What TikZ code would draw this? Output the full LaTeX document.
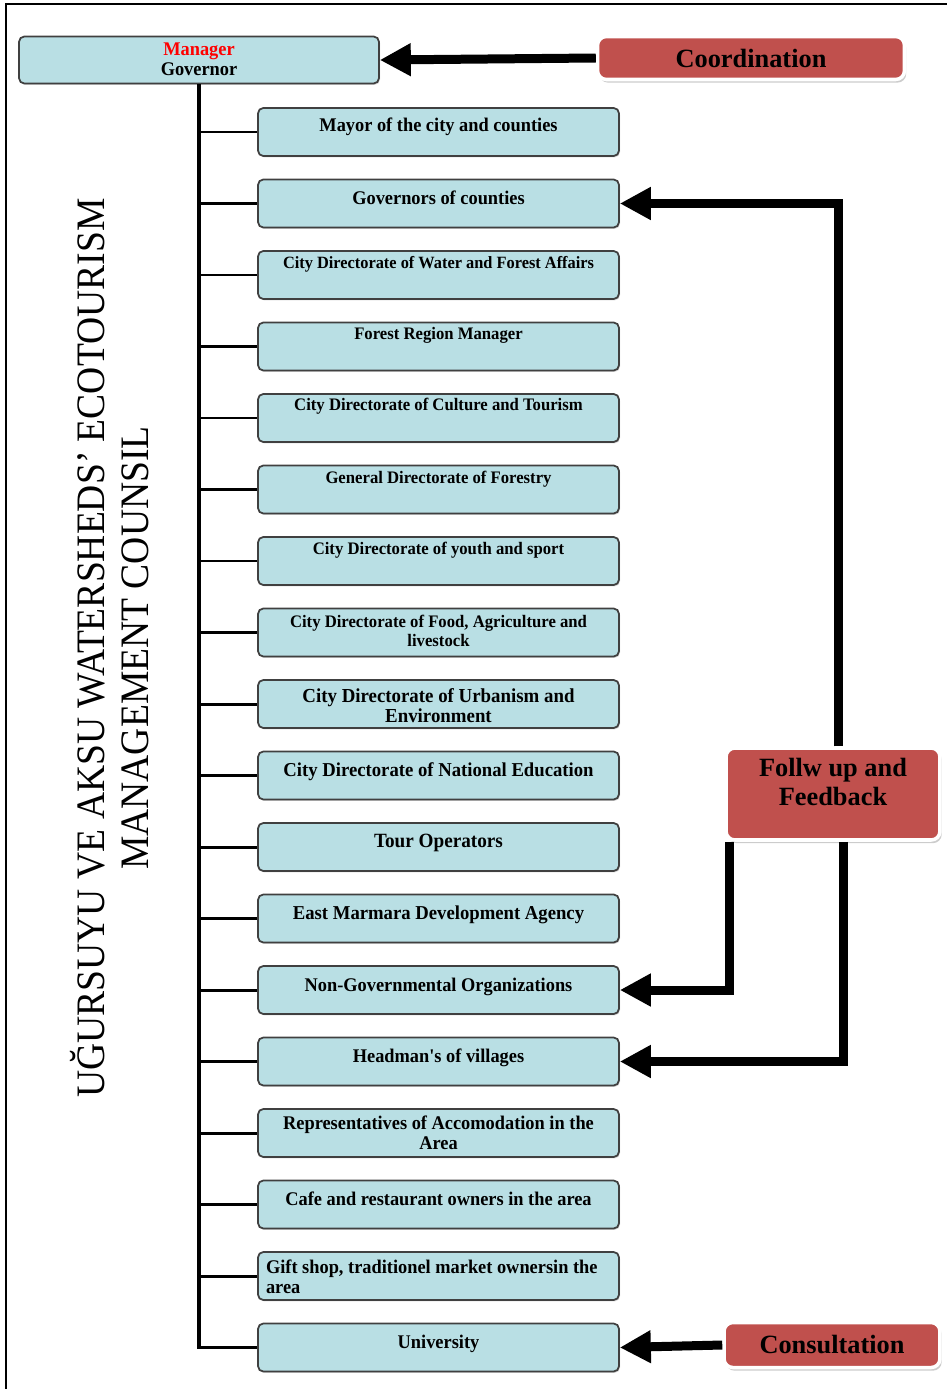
\documentclass[tikz,border=0pt]{standalone}
\usepackage{fontspec}
\setmainfont{Liberation Serif}
\newfontfamily\narrowfont[FakeStretch=0.95]{Liberation Serif}
\newfontfamily\titlefont[FakeStretch=0.93]{Liberation Serif}
\usetikzlibrary{arrows.meta,shadows,calc}

\definecolor{boxblue}{RGB}{185,223,228}
\definecolor{boxred}{RGB}{192,80,77}

% text set at the top of a box
\newcommand{\toptext}[3]{\parbox[c][#1][t]{6.9cm}{\centering\narrowfont\bfseries\vspace*{#2}#3}}

\tikzset{
  member/.style={draw=black!75, line width=1pt, fill=boxblue, rounded corners=3pt,
    minimum width=7.22cm, minimum height=0.96cm, inner sep=0pt,
    drop shadow={shadow xshift=0.6pt, shadow yshift=-0.8pt, opacity=0.3}},
  action/.style={draw=white, line width=2pt, fill=boxred, rounded corners=5pt,
    inner sep=0pt, font=\bfseries\fontsize{15}{16.5}\selectfont, align=center,
    drop shadow={shadow xshift=1pt, shadow yshift=-1.8pt, opacity=0.4}},
  flow/.style={line width=0.18cm, -{Triangle[length=0.62cm,width=0.62cm]}},
  trunk/.style={line width=2.2pt},
  branch/.style={line width=1.7pt},
}

\begin{document}
\begin{tikzpicture}[x=0.02cm, y=-0.02cm]
\useasboundingbox (0,0) rectangle (947,1389);
\draw[line width=0.9pt] (6,1389) -- (6,4) -- (947,4);

% head of the council
\node[member, minimum width=7.2cm, minimum height=0.94cm] (mgr) at (199,60)
  {\toptext{0.94cm}{3.5pt}{\fontsize{11}{11.5}\selectfont\textcolor{red}{Manager}\\Governor}};

% members
\foreach \i/\gap/\txt [evaluate=\i as \y using {132+(\i-1)*71.5}] in {
  1/5.6pt/{\fontsize{11}{12}\selectfont Mayor of the city and counties},
  2/6.2pt/{\fontsize{11}{12}\selectfont Governors of counties},
  3/2.8pt/{\fontsize{9.8}{11}\selectfont City Directorate of Water and Forest Affairs},
  4/2.8pt/{\fontsize{10}{11}\selectfont Forest Region Manager},
  5/2.2pt/{\fontsize{10}{11}\selectfont City Directorate of Culture and Tourism},
  6/3.3pt/{\fontsize{10}{11}\selectfont General Directorate of Forestry},
  7/2.8pt/{\fontsize{10}{11}\selectfont City Directorate of youth and sport},
  8/3.9pt/{\fontsize{10}{10.5}\selectfont City Directorate of Food, Agriculture and\\livestock},
  9/5pt/{\fontsize{11.3}{11.5}\selectfont City Directorate of Urbanism and\\Environment},
  10/6.2pt/{\fontsize{11.2}{12}\selectfont City Directorate of National Education},
  11/6.2pt/{\fontsize{11.5}{12}\selectfont Tour Operators},
  12/6.7pt/{\fontsize{11.2}{12}\selectfont East Marmara Development Agency},
  13/6.7pt/{\fontsize{11}{12}\selectfont Non-Governmental Organizations},
  14/6.2pt/{\fontsize{11}{12}\selectfont Headman's of villages},
  15/3.9pt/{\fontsize{11}{11.5}\selectfont Representatives of Accomodation in the\\Area},
  16/6.2pt/{\fontsize{11}{12}\selectfont Cafe and restaurant owners in the area},
  17/4.5pt/{\fontsize{11}{11.5}\selectfont\raggedright Gift shop, traditionel market ownersin the\\area},
  18/6.7pt/{\fontsize{11}{12}\selectfont University}}
  \node[member] (b\i) at (438.5,\y) {\toptext{0.96cm}{\gap}{\txt}};

\node[action, minimum width=6.14cm, minimum height=0.86cm] (coord) at (751,58) {Coordination};
\node[action, minimum width=4.28cm, minimum height=1.84cm] (follow) at (833,794)
  {\parbox[c][1.84cm][t]{4cm}{\centering\vspace*{6pt}Follw up and\\Feedback}};
\node[action, minimum width=4.32cm, minimum height=0.9cm] (consult) at (832,1345) {Consultation};

% connectors
\draw[trunk] (mgr.south) |- (b18.west);
\foreach \i in {1,...,17}
  \draw[branch] (mgr.south |- b\i.west) -- (b\i.west);
\draw[flow] (coord.west) -- (mgr.east);
\draw[flow] ($(follow.north)+(5,0)$) |- (b2.east);
\draw[flow] ($(follow.south west)+(5,0)$) |- (b13.east);
\draw[flow] ($(follow.south)+(10,0)$) |- (b14.east);
\draw[flow] (consult.west) -- (b18.east);

% title of the council
\node[rotate=90, align=center, font=\titlefont\fontsize{23}{25}\selectfont] (title) at (110,648)
  {UĞURSUYU VE AKSU WATERSHEDS’ ECOTOURISM\\MANAGEMENT COUNSIL};
\end{tikzpicture}
\end{document}
